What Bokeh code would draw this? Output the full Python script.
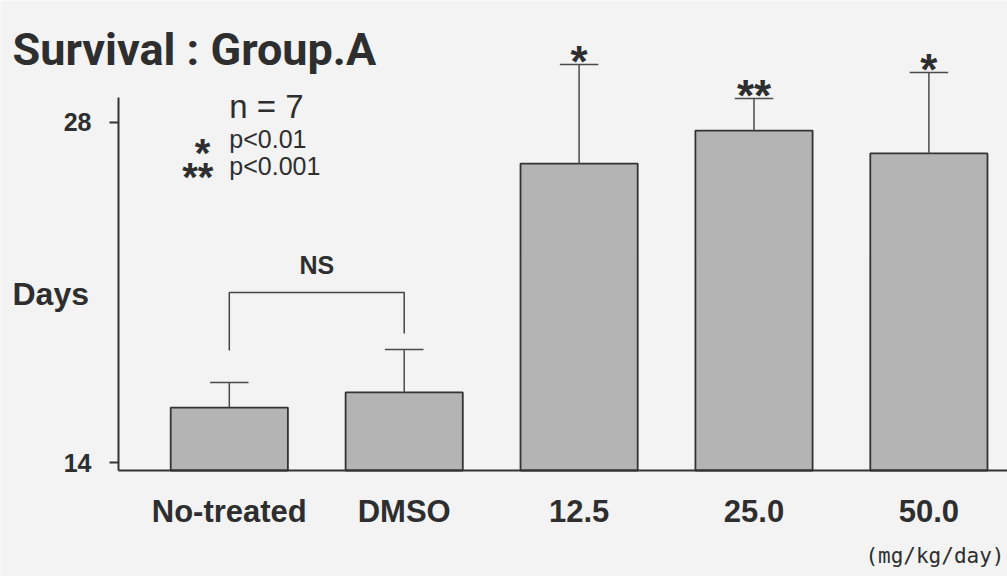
from bokeh.plotting import figure
from bokeh.models import Range1d, FixedTicker, ColumnDataSource
from bokeh.core.properties import value
from bokeh.embed import file_html
from bokeh.resources import INLINE

# ---- data ----
groups = ["No-treated", "DMSO", "12.5", "25.0", "50.0"]
mean_days = [16.26, 16.88, 26.29, 27.65, 26.71]
sd_days = [1.03, 1.77, 4.08, 1.32, 3.33]
signif = ["", "", "*", "**", "*"]
y_ticks = [14, 28]
n_animals = 7

# ---- style / layout ----
BG = "#f3f3f3"
BAR = "#b4b4b4"
INK = "#2e2e2e"
X0, X1 = -1.3082, 4.4494      # whole canvas in data units
Y0, Y1 = 9.3125, 32.997
X_AXIS_AT = -0.6335           # where the y axis stands
Y_AXIS_AT = 13.671            # where the baseline lies
PX_PER_DAY = 24.32

x = list(range(len(groups)))
upper = [m + s for m, s in zip(mean_days, sd_days)]
cap = 0.11
src = ColumnDataSource(dict(
    x=x, top=mean_days, upper=upper,
    cl=[i - cap for i in x], cr=[i + cap for i in x], sig=signif))

p = figure(width=1007, height=576, output_backend="svg", toolbar_location=None,
           x_range=Range1d(X0, X1), y_range=Range1d(Y0, Y1),
           min_border_left=0, min_border_right=0, min_border_top=0,
           min_border_bottom=0)
p.background_fill_color = BG
p.border_fill_color = BG
p.outline_line_color = None
p.grid.visible = False

# bars
p.vbar(x="x", top="top", bottom=Y_AXIS_AT, width=0.67, source=src,
       fill_color=BAR, line_color="#333333", line_width=1.8)
# error bars (upper only)
p.segment(x0="x", y0="top", x1="x", y1="upper", source=src,
          line_color="#4a4a4a", line_width=1.5)
p.segment(x0="cl", y0="upper", x1="cr", y1="upper", source=src,
          line_color="#4a4a4a", line_width=1.5)
# significance stars
p.text(x="x", y="upper", text="sig", source=src, text_align="center",
       text_baseline="alphabetic", y_offset=-3,
       text_font=value("Liberation Sans"), text_font_style="bold",
       text_font_size="44px", text_color=INK)

# NS bracket between the first two groups
leg_gap = [32 / PX_PER_DAY, 16 / PX_PER_DAY]
br_top = max(upper[0], upper[1]) + 57 / PX_PER_DAY
p.line(x=[x[0], x[0], x[1], x[1]],
       y=[upper[0] + leg_gap[0], br_top, br_top, upper[1] + leg_gap[1]],
       line_color="#444444", line_width=1.5)
p.text(x=[(x[0] + x[1]) / 2], y=[br_top], text=["NS"], text_align="center",
       text_baseline="alphabetic", y_offset=-27,
       text_font=value("Liberation Sans"), text_font_style="bold",
       text_font_size="25px", text_color=INK)

# legend text (top-left)
p.text(x=[0.0], y=[28.64], text=[f"n = {n_animals}"], text_align="left",
       text_baseline="alphabetic", text_font=value("Liberation Sans"),
       text_font_size="33px", text_color=INK)
p.text(x=[0.0, 0.0], y=[27.32, 26.21], text=["p<0.01", "p<0.001"],
       text_align="left", text_baseline="alphabetic",
       text_font=value("Liberation Sans"), text_font_size="25px",
       text_color=INK)
p.text(x=[-0.153, -0.18], y=[26.71, 25.72], text=["*", "**"],
       text_align="center", text_baseline="alphabetic",
       text_font=value("Liberation Sans"), text_font_style="bold",
       text_font_size="40px", text_color=INK)

# title and outer labels
p.text(x=[-1.2396], y=[30.98], text=["Survival : Group.A"], text_align="left",
       text_baseline="alphabetic", text_font=value("Roboto"),
       text_font_style="bold", text_font_size="45px", text_color=INK)
p.text(x=[-1.2396], y=[20.91], text=["Days"], text_align="left",
       text_baseline="alphabetic", text_font=value("Liberation Sans"),
       text_font_style="bold", text_font_size="32px", text_color=INK)
p.text(x=[4.432], y=[10.135], text=["(mg/kg/day)"], text_align="right",
       text_baseline="alphabetic", text_font=value("DejaVu Sans Mono"),
       text_font_size="21px", text_color=INK)

# axes
p.xaxis.fixed_location = Y_AXIS_AT
p.xaxis.bounds = (X_AXIS_AT, X1)
p.xaxis.ticker = FixedTicker(ticks=x)
p.xaxis.major_label_overrides = {i: g for i, g in zip(x, groups)}
p.xaxis.major_tick_out = 0
p.xaxis.major_tick_in = 0
p.xaxis.minor_tick_out = 0
p.xaxis.minor_tick_in = 0
p.xaxis.axis_line_width = 2
p.xaxis.axis_line_color = "#333333"
p.xaxis.major_label_standoff = 23
p.xaxis.major_label_text_font = "Liberation Sans"
p.xaxis.major_label_text_font_style = "bold"
p.xaxis.major_label_text_font_size = "31px"
p.xaxis.major_label_text_color = INK

p.yaxis.fixed_location = X_AXIS_AT
p.yaxis.bounds = (Y_AXIS_AT, 29.0)
p.yaxis.ticker = FixedTicker(ticks=y_ticks)
p.yaxis.major_tick_out = 9
p.yaxis.major_tick_in = 0
p.yaxis.minor_tick_out = 0
p.yaxis.minor_tick_in = 0
p.yaxis.major_tick_line_width = 2
p.yaxis.major_tick_line_color = "#333333"
p.yaxis.axis_line_width = 2
p.yaxis.axis_line_color = "#333333"
p.yaxis.major_label_standoff = 18
p.yaxis.major_label_text_font = "Liberation Sans"
p.yaxis.major_label_text_font_style = "bold"
p.yaxis.major_label_text_font_size = "25px"
p.yaxis.major_label_text_color = INK

open("out.html", "w").write(file_html(p, INLINE))
